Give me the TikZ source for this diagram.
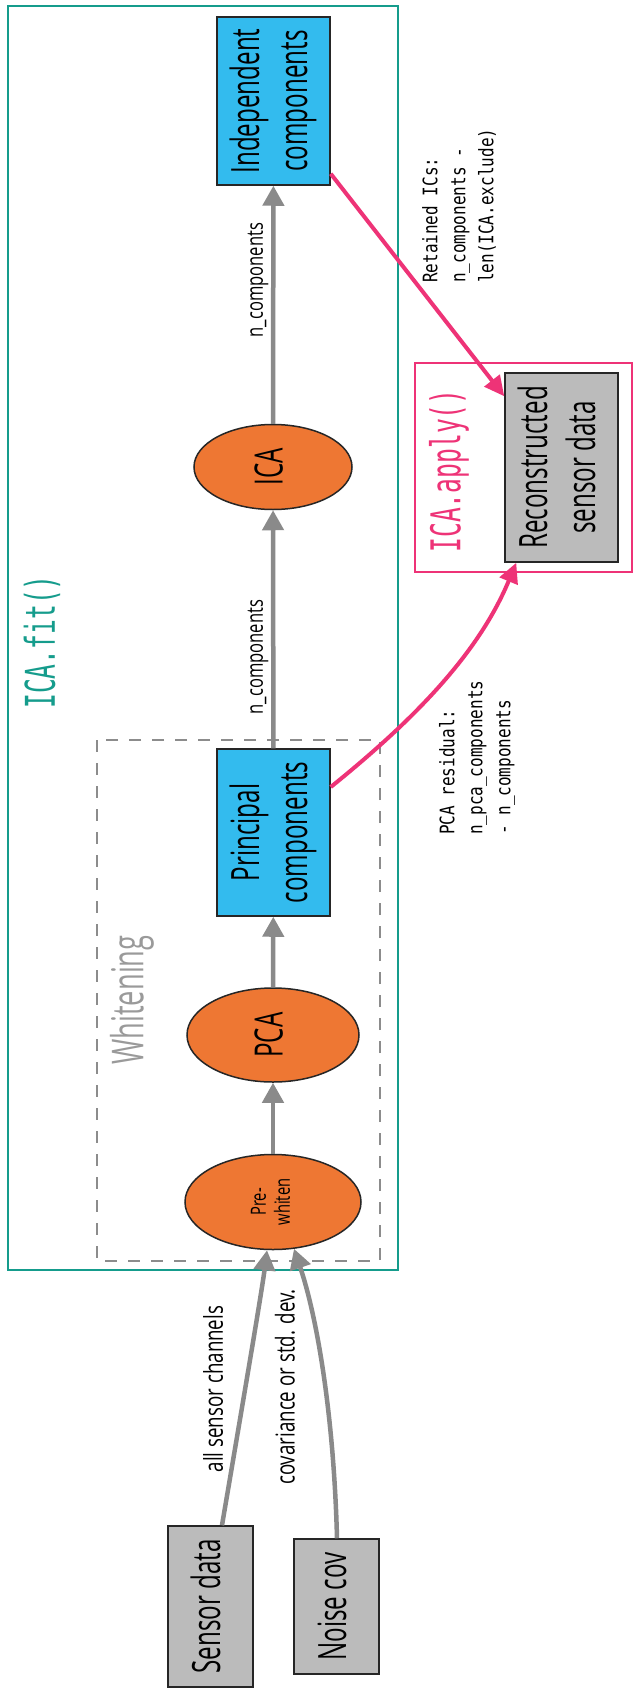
\documentclass[tikz,border=0pt]{standalone}
\usepackage{fontspec}
\usepackage{graphicx}
\usetikzlibrary{shapes.geometric,arrows.meta}
\setmainfont{Open Sans}
\newfontfamily\nodefont{Open Sans}[FakeStretch=0.62]
\newfontfamily\edgefont{Open Sans}[FakeStretch=0.72]
\newfontfamily\pwfont{Open Sans}[FakeStretch=0.70]
\newfontfamily\clusterfont{DejaVu Sans Mono}[FakeStretch=0.6]
\newfontfamily\codefont{DejaVu Sans Mono}[FakeStretch=0.8]
\definecolor{tealc}{HTML}{159C8C}
\definecolor{pinkc}{HTML}{EE3377}
\definecolor{orangec}{HTML}{EE7733}
\definecolor{cyanc}{HTML}{33BBEE}
\definecolor{greyc}{HTML}{BBBBBB}
\definecolor{edgec}{HTML}{8A8A8A}
\definecolor{dashc}{HTML}{8C8C8C}
\definecolor{whitelblc}{HTML}{9A9A9A}
\definecolor{nodeline}{HTML}{262626}
% vertical (bottom-to-top) multi-line label
\newcommand{\vlbl}[1]{\rotatebox{90}{\begin{tabular}{@{}c@{}}#1\end{tabular}}}
\tikzset{
  bigtext/.style={font=\nodefont\fontsize{39}{48}\selectfont},
  databox/.style={draw=nodeline, line width=1.5pt, rectangle, inner sep=0pt, bigtext},
  compbox/.style={databox, fill=cyanc},
  iobox/.style={databox, fill=greyc},
  proc/.style={draw=nodeline, line width=1.5pt, ellipse, fill=orangec, inner sep=0pt, bigtext},
  gedge/.style={draw=edgec, line width=4.5pt, -{Triangle[length=20pt,width=21pt]}},
  pedge/.style={draw=pinkc, line width=4pt, -{Triangle[length=20pt,width=19pt]}},
  elabel/.style={rotate=90, inner sep=0pt, font=\edgefont\fontsize{26}{31}\selectfont},
  nlabel/.style={rotate=90, inner sep=0pt, font=\edgefont\fontsize{23}{28}\selectfont},
  codelabel/.style={rotate=90, anchor=west, inner sep=0pt, align=left, font=\codefont\fontsize{20}{28}\selectfont},
  clusterlabel/.style={rotate=90, inner sep=0pt, font=\clusterfont\fontsize{41}{48}\selectfont},
}
\begin{document}
\begin{tikzpicture}[x=1pt,y=-1pt]
\useasboundingbox[fill=white] (0,0) rectangle (633,1688);

% clusters
\draw[tealc, line width=2.5pt] (8,6) rectangle (398,1270);
\node[clusterlabel, text=tealc] (fitlbl) at (42,642) {ICA.fit()};
\draw[dashc, line width=2pt, dash pattern=on 12pt off 11pt] (97,740) rectangle (380,1261);
\node[rotate=90, inner sep=0pt, text=whitelblc, font=\nodefont\fontsize{44}{50}\selectfont] (whitelbl) at (132,1000) {Whitening};
\draw[pinkc, line width=2pt] (415,363) rectangle (632,572);
\node[clusterlabel, text=pinkc] (applylbl) at (449,471) {ICA.apply()};

% nodes
\node[compbox, minimum width=113pt, minimum height=168pt] (ic) at (273.5,101) {\vlbl{Independent\\components}};
\node[proc, minimum width=158pt, minimum height=85pt] (ica) at (273,467) {\vlbl{ICA}};
\node[compbox, minimum width=113pt, minimum height=167pt] (pc) at (273.5,832.5) {\vlbl{Principal\\components}};
\node[proc, minimum width=172pt, minimum height=94pt] (pca) at (273,1035) {\vlbl{PCA}};
\node[proc, minimum width=176pt, minimum height=95pt, font=\pwfont\fontsize{21}{24}\selectfont] (pw) at (273,1202) {\vlbl{Pre-\\whiten}};
\node[iobox, minimum width=85pt, minimum height=161pt] (sd) at (210.5,1606.5) {\vlbl{Sensor data}};
\node[iobox, minimum width=85pt, minimum height=135pt] (nc) at (336.5,1606.5) {\vlbl{Noise cov}};
\node[iobox, minimum width=113pt, minimum height=189pt] (rc) at (561.5,467.5) {\vlbl{Reconstructed\\sensor data}};

% inputs into the pre-whitening step
\draw[gedge] ([xshift=11.5pt]sd.north) .. controls (245,1390) and (262,1290) .. ([xshift=-6pt]pw.south);
\draw[gedge] ([xshift=0.5pt]nc.north) .. controls (334,1420) and (318,1320) .. ([xshift=21pt,yshift=1.5pt]pw.south);
\node[elabel] (lsd) at (213,1389) {all sensor channels};
\node[elabel] (lnc) at (285,1387) {covariance or std. dev.};

% main chain
\draw[gedge] (pw) -- (pca);
\draw[gedge] (pca) -- (pc);
\draw[gedge] (pc) -- (ica);
\draw[gedge] (ica) -- (ic);
\node[nlabel] (lpc) at (258,657) {n\_components};
\node[nlabel] (lica) at (258,280) {n\_components};

% reconstruction inputs
\draw[pedge] ([yshift=12pt]ic.south east) -- ([yshift=-24pt]rc.north west);
\draw[pedge] ([yshift=45.5pt]pc.east) .. controls (420,715) and (480,650) .. ([xshift=12pt]rc.south west);
\node[codelabel] (lret) at (459,283) {Retained ICs:\\n\_components -\\len(ICA.exclude)};
\node[codelabel] (lres) at (477,835) {PCA residual:\\n\_pca\_components\\- n\_components};
\end{tikzpicture}
\end{document}
